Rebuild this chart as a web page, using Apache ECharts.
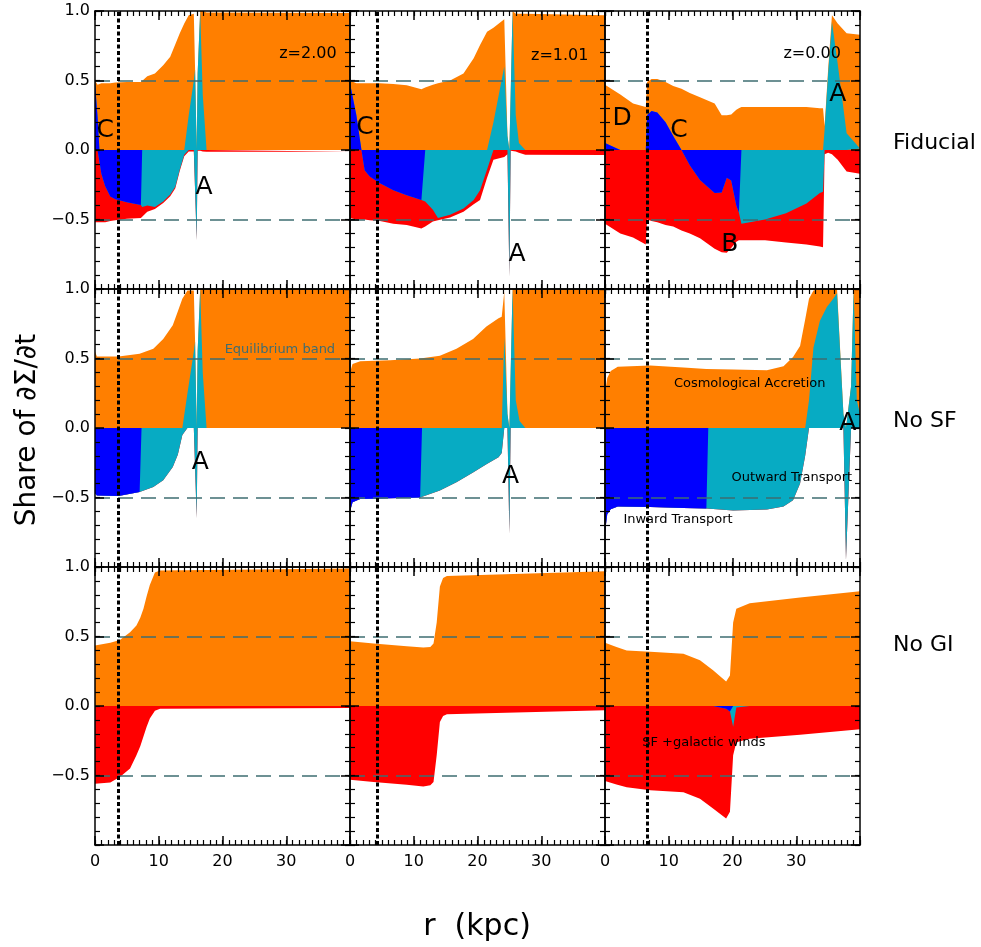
<!DOCTYPE html>
<html lang="en" style="height: 100%;margin: 0;background-color: #fff;">
<head>
    <meta charset="UTF-8">
    <title>chart</title>
</head>
<body style="height: 100%;margin: 0;background-color: #fff;">
<div id="chart" style="width: 981px;height: 947px;margin: 0;"></div>
<script src="https://cdn.jsdelivr.net/npm/echarts@6/dist/echarts.min.js"></script>
<script>
    // share of dSigma/dt per radius (kpc); in = inward transport, out = outward transport,
    // acc = cosmological accretion, sf = SF + galactic winds
    var fidZ2_r   = [0, 0.4, 0.7, 1.0, 1.6, 2.4, 3.2, 5.0, 7.2, 7.4, 8.2, 9.4, 10.7, 11.8, 12.6, 13.3, 14.0, 14.7, 15.5, 15.7, 15.95, 16.1, 16.5, 16.9, 17.5, 40];
    var fidZ2_in  = [0.48, 0.24, 0, -0.17, -0.26, -0.335, -0.355, -0.375, -0.395, 0, 0, 0, 0, 0, 0, 0, 0, 0, 0, 0, 0, 0, 0, 0, 0, 0];
    var fidZ2_out = [0, 0, 0, 0, 0, 0, 0, 0, 0, -0.41, -0.40, -0.41, -0.37, -0.32, -0.265, -0.14, -0.035, 0.25, 0.5, 0.58, -0.65, 0.55, 1.0, 0.4, 0, 0];
    var fidZ2_acc = [0.02, 0.23, 0.47, 0.48, 0.48, 0.48, 0.485, 0.49, 0.49, 0.50, 0.53, 0.55, 0.61, 0.67, 0.76, 0.84, 0.91, 0.72, 0.48, 0, 0, 0, 0, 0.6, 0.99, 0.985];
    var fidZ2_sf  = [-0.52, -0.52, -0.53, -0.35, -0.26, -0.175, -0.15, -0.12, -0.095, -0.08, -0.045, -0.015, -0.012, -0.012, -0.01, -0.01, -0.01, -0.01, -0.01, -0.005, 0, -0.005, -0.005, -0.01, -0.012, -0.012];

    var fidZ1_r   = [0, 1.0, 1.8, 2.3, 3.1, 4.7, 6.8, 8.9, 11.2, 11.8, 13.0, 13.8, 15.7, 17.8, 19.4, 20.4, 21.5, 22.5, 24.2, 24.7, 25.0, 25.2, 25.5, 26.0, 26.5, 27.5, 40];
    var fidZ1_in  = [0.48, 0.25, 0, -0.145, -0.19, -0.24, -0.29, -0.325, -0.36, 0, 0, 0, 0, 0, 0, 0, 0, 0, 0, 0, 0, 0, 0, 0, 0, 0, 0];
    var fidZ1_out = [0, 0, 0, 0, 0, 0, 0, 0, 0, -0.37, -0.43, -0.49, -0.465, -0.42, -0.36, -0.29, -0.14, 0.2, 0.6, 0.1, -0.91, 0.4, 1.0, 0.25, 0.05, 0, 0];
    var fidZ1_acc = [0.02, 0.23, 0.48, 0.48, 0.48, 0.48, 0.475, 0.465, 0.437, 0.45, 0.47, 0.48, 0.5, 0.55, 0.66, 0.755, 0.85, 0.68, 0.34, 0, 0, 0, 0, 0.73, 0.93, 0.98, 0.97];
    var fidZ1_sf  = [-0.49, -0.5, -0.5, -0.355, -0.315, -0.27, -0.24, -0.215, -0.205, -0.18, -0.085, -0.015, -0.02, -0.025, -0.03, -0.07, -0.06, -0.07, -0.05, -0.03, 0, -0.005, -0.005, -0.01, -0.02, -0.035, -0.036];

    var fidZ0_r   = [0, 2.4, 4.4, 6.4, 6.6, 7.3, 8.2, 9.5, 10.7, 12.0, 13.3, 14.9, 17.2, 18.3, 19.1, 19.8, 20.6, 21.0, 21.4, 25.1, 28.4, 31.6, 33.7, 34.2, 34.45, 35.0, 35.6, 36.5, 37.9, 40];
    var fidZ0_in  = [0.05, 0, 0, 0, 0.25, 0.28, 0.27, 0.2, 0.1, 0, -0.11, -0.215, -0.31, -0.305, -0.2, -0.22, -0.4, -0.45, 0, 0, 0, 0, 0, 0, 0, 0, 0, 0, 0, 0];
    var fidZ0_out = [0, 0, 0, 0, 0, 0, 0, 0, 0, 0, 0, 0, 0, 0, 0, 0, 0, 0, -0.53, -0.5, -0.455, -0.385, -0.31, -0.3, 0.15, 0.55, 0.92, 0.62, 0.12, 0.01];
    var fidZ0_acc = [0.42, 0.40, 0.335, 0.31, 0.24, 0.23, 0.24, 0.29, 0.36, 0.44, 0.41, 0.38, 0.335, 0.25, 0.25, 0.255, 0.29, 0.3, 0.31, 0.31, 0.31, 0.31, 0.3, 0.3, 0.02, 0.03, 0.05, 0.29, 0.72, 0.82];
    var fidZ0_sf  = [-0.53, -0.6, -0.63, -0.68, -0.5, -0.51, -0.52, -0.54, -0.55, -0.58, -0.49, -0.42, -0.4, -0.43, -0.54, -0.485, -0.26, -0.2, -0.12, -0.15, -0.21, -0.295, -0.385, -0.4, -0.03, -0.02, -0.03, -0.07, -0.155, -0.17];

    var noSfZ2_r   = [0, 0.3, 3.7, 7.0, 7.3, 9.15, 10.7, 12.2, 13.0, 13.7, 14.5, 15.5, 15.7, 15.95, 16.1, 16.5, 16.9, 17.5, 40];
    var noSfZ2_in  = [-0.47, -0.485, -0.49, -0.46, 0, 0, 0, 0, 0, 0, 0, 0, 0, 0, 0, 0, 0, 0, 0];
    var noSfZ2_out = [0, 0, 0, 0, -0.455, -0.425, -0.375, -0.28, -0.19, -0.05, 0.25, 0.55, 0.62, -0.65, 0.55, 1.0, 0.4, 0, 0];
    var noSfZ2_acc = [0.55, 0.515, 0.515, 0.535, 0.54, 0.57, 0.64, 0.74, 0.84, 0.93, 0.74, 0.44, 0, 0, 0, 0, 0.6, 1.0, 1.0];
    var noSfZ2_sf  = [0, 0, 0, 0, 0, 0, 0, 0, 0, 0, 0, 0, 0, 0, 0, 0, 0, 0, 0];

    var noSfZ1_r   = [0, 0.4, 1.6, 6.3, 11.0, 11.3, 14.1, 16.7, 19.3, 21.4, 23.3, 23.8, 24.2, 24.7, 25.0, 25.2, 25.5, 26.0, 26.6, 27.5, 40];
    var noSfZ1_in  = [-0.6, -0.535, -0.51, -0.505, -0.5, 0, 0, 0, 0, 0, 0, 0, 0, 0, 0, 0, 0, 0, 0, 0, 0];
    var noSfZ1_out = [0, 0, 0, 0, 0, -0.495, -0.45, -0.39, -0.32, -0.26, -0.21, -0.18, 0.65, 0.1, -0.76, 0.4, 1.0, 0.2, 0.05, 0, 0];
    var noSfZ1_acc = [0.4, 0.46, 0.48, 0.487, 0.5, 0.5, 0.52, 0.57, 0.64, 0.73, 0.79, 0.8, 0.33, 0, 0, 0, 0, 0.8, 0.95, 1.0, 1.0];
    var noSfZ1_sf  = [0, 0, 0, 0, 0, 0, 0, 0, 0, 0, 0, 0, 0, 0, 0, 0, 0, 0, 0, 0, 0];

    var noSfZ0_r   = [0, 0.35, 0.9, 2.0, 7.1, 12.3, 15.9, 16.2, 20.1, 25.4, 28.0, 29.5, 30.6, 31.4, 32.0, 32.7, 33.7, 34.8, 35.8, 36.4, 37.4, 37.8, 38.6, 39.0, 39.5, 40];
    var noSfZ0_in  = [-0.75, -0.62, -0.585, -0.565, -0.568, -0.575, -0.58, 0, 0, 0, 0, 0, 0, 0, 0, 0, 0, 0, 0, 0, 0, 0, 0, 0, 0, 0];
    var noSfZ0_out = [0, 0, 0, 0, 0, 0, 0, -0.59, -0.593, -0.587, -0.565, -0.52, -0.4, -0.2, 0.2, 0.58, 0.77, 0.87, 0.93, 0.97, 0.1, -0.95, 0.3, 1.0, 0.2, 0.1];
    var noSfZ0_acc = [0.25, 0.36, 0.41, 0.44, 0.45, 0.435, 0.425, 0.425, 0.42, 0.415, 0.445, 0.51, 0.59, 0.78, 0.73, 0.41, 0.23, 0.13, 0.07, 0.03, 0, 0, 0, 0, 0.8, 0.9];
    var noSfZ0_sf  = [0, 0, 0, 0, 0, 0, 0, 0, 0, 0, 0, 0, 0, 0, 0, 0, 0, 0, 0, 0, 0, 0, 0, 0, 0, 0];

    var noGiZ2_r   = [0, 2.4, 3.9, 5.5, 6.5, 7.1, 7.6, 8.1, 8.6, 9.4, 10.2, 40];
    var noGiZ2_in  = [0, 0, 0, 0, 0, 0, 0, 0, 0, 0, 0, 0];
    var noGiZ2_out = [0, 0, 0, 0, 0, 0, 0, 0, 0, 0, 0, 0];
    var noGiZ2_acc = [0.436, 0.455, 0.475, 0.53, 0.58, 0.635, 0.7, 0.79, 0.87, 0.96, 0.975, 0.99];
    var noGiZ2_sf  = [-0.56, -0.55, -0.51, -0.45, -0.355, -0.29, -0.22, -0.15, -0.09, -0.035, -0.02, -0.015];

    var noGiZ1_r   = [0, 3.7, 8.9, 11.5, 12.6, 13.1, 13.6, 14.1, 14.6, 15.2, 40];
    var noGiZ1_in  = [0, 0, 0, 0, 0, 0, 0, 0, 0, 0, 0];
    var noGiZ1_out = [0, 0, 0, 0, 0, 0, 0, 0, 0, 0, 0];
    var noGiZ1_acc = [0.465, 0.45, 0.43, 0.42, 0.425, 0.45, 0.6, 0.86, 0.92, 0.935, 0.97];
    var noGiZ1_sf  = [-0.53, -0.547, -0.566, -0.58, -0.57, -0.547, -0.355, -0.115, -0.072, -0.06, -0.03];

    var noGiZ0_r   = [0, 1.8, 3.4, 7.1, 12.3, 14.9, 17.0, 19.0, 19.6, 20.1, 20.6, 22.7, 30.6, 40];
    var noGiZ0_in  = [0, 0, 0, 0, 0, 0, 0, -0.02, -0.04, 0, 0, 0, 0, 0];
    var noGiZ0_out = [0, 0, 0, 0, 0, 0, 0, 0, 0, -0.15, -0.01, 0, 0, 0];
    var noGiZ0_acc = [0.455, 0.425, 0.4, 0.39, 0.376, 0.33, 0.256, 0.177, 0.22, 0.6, 0.7, 0.74, 0.78, 0.825];
    var noGiZ0_sf  = [-0.54, -0.565, -0.585, -0.607, -0.62, -0.667, -0.74, -0.79, -0.72, -0.205, -0.25, -0.235, -0.206, -0.168];

    // radius of the vertical dotted marker, one per redshift column
    var dotR = [3.65, 4.35, 6.7];
    var rowNames = ["Fiducial", "No SF", "No GI"];
    var bandLevels = [0.5, -0.5];

    // [panel, r, share, text, font size, colour]
    var notes = [
        [0, 33.4, 0.69, "z=2.00", 16], [0, 1.6, 0.14, "C", 25], [0, 17.1, -0.27, "A", 25],
        [1, 32.9, 0.68, "z=1.01", 16], [1, 2.35, 0.16, "C", 25], [1, 26.2, -0.755, "A", 25],
        [2, 32.5, 0.69, "z=0.00", 16], [2, 2.7, 0.23, "D", 25], [2, 11.6, 0.14, "C", 25],
        [2, 19.6, -0.68, "B", 25], [2, 36.5, 0.40, "A", 25],
        [3, 29.0, 0.566, "Equilibrium band", 13, "#3e6d72"], [3, 16.5, -0.245, "A", 25],
        [4, 25.2, -0.35, "A", 25],
        [5, 22.7, 0.32, "Cosmological Accretion", 13], [5, 38.1, 0.03, "A", 25],
        [5, 29.3, -0.36, "Outward Transport", 13], [5, 11.45, -0.66, "Inward Transport", 13],
        [8, 15.5, -0.26, "SF +galactic winds", 13]
    ];

    var panels = [
        {r: fidZ2_r, inw: fidZ2_in, out: fidZ2_out, acc: fidZ2_acc, sf: fidZ2_sf},
        {r: fidZ1_r, inw: fidZ1_in, out: fidZ1_out, acc: fidZ1_acc, sf: fidZ1_sf},
        {r: fidZ0_r, inw: fidZ0_in, out: fidZ0_out, acc: fidZ0_acc, sf: fidZ0_sf},
        {r: noSfZ2_r, inw: noSfZ2_in, out: noSfZ2_out, acc: noSfZ2_acc, sf: noSfZ2_sf},
        {r: noSfZ1_r, inw: noSfZ1_in, out: noSfZ1_out, acc: noSfZ1_acc, sf: noSfZ1_sf},
        {r: noSfZ0_r, inw: noSfZ0_in, out: noSfZ0_out, acc: noSfZ0_acc, sf: noSfZ0_sf},
        {r: noGiZ2_r, inw: noGiZ2_in, out: noGiZ2_out, acc: noGiZ2_acc, sf: noGiZ2_sf},
        {r: noGiZ1_r, inw: noGiZ1_in, out: noGiZ1_out, acc: noGiZ1_acc, sf: noGiZ1_sf},
        {r: noGiZ0_r, inw: noGiZ0_in, out: noGiZ0_out, acc: noGiZ0_acc, sf: noGiZ0_sf}
    ];

    var FONT = "DejaVu Sans";
    var C_IN = "#0000ff", C_OUT = "#07abc3", C_ACC = "#ff7f00", C_SF = "#ff0000", C_BAND = "#3e6d72";
    var colLeft = [95, 350, 605], rowTop = [11, 289, 567], panelW = 255, panelH = 278;

    var chartContainer = document.getElementById("chart");
    var myChart = echarts.init(chartContainer, null, {renderer: 'canvas'});

    // each panel gets 4 x axes and 4 y axes: framed major ticks (bottom/left carry labels)
    // plus a second pair that only draws the short minor ticks; all drawn above the fills
    function xAx(p, pos, showLabel, minor) {
        return {
            gridIndex: p, type: 'value', position: pos, min: 0, max: 40, interval: minor ? 1 : 10, z: 10,
            axisLine: {show: !minor, onZero: false, lineStyle: {color: '#000', width: 1.5}},
            axisTick: {show: true, inside: true, length: minor ? 5 : 9, lineStyle: {color: '#000', width: minor ? 1.2 : 1.5}},
            splitLine: {show: false},
            axisLabel: {
                show: showLabel, margin: 9, color: '#000', fontSize: 16, fontFamily: FONT,
                formatter: function (v) { return v >= 40 ? '' : String(v); }
            }
        };
    }

    function yAx(p, pos, showLabel, minor) {
        return {
            gridIndex: p, type: 'value', position: pos, min: -1, max: 1, interval: minor ? 0.1 : 0.5, z: 10,
            axisLine: {show: !minor, onZero: false, lineStyle: {color: '#000', width: 1.5}},
            axisTick: {show: true, inside: true, length: minor ? 5 : 9, lineStyle: {color: '#000', width: minor ? 1.2 : 1.5}},
            splitLine: {show: false},
            axisLabel: {
                show: showLabel, margin: 5, color: '#000', fontSize: 16, fontFamily: FONT,
                formatter: function (v) {
                    if (v <= -1) return '';
                    return (v < 0 ? '\u2212' : '') + Math.abs(v).toFixed(1);
                }
            }
        };
    }

    function band(p, name, color, values, z) {
        var rs = panels[p].r;
        return {
            name: name, type: 'line', xAxisIndex: 4 * p, yAxisIndex: 4 * p, z: z,
            data: rs.map(function (r, i) { return [r, values[i]]; }),
            symbol: 'none', showSymbol: false, silent: true, animation: false,
            lineStyle: {width: 0, opacity: 0},
            areaStyle: {color: color, opacity: 1}
        };
    }

    var grid = [], xAxis = [], yAxis = [], series = [];
    panels.forEach(function (pn, p) {
        var row = Math.floor(p / 3), col = p % 3;
        grid.push({left: colLeft[col], top: rowTop[row], width: panelW, height: panelH});
        xAxis.push(xAx(p, 'bottom', row === 2, false), xAx(p, 'top', false, false),
                   xAx(p, 'bottom', false, true), xAx(p, 'top', false, true));
        yAxis.push(yAx(p, 'left', col === 0, false), yAx(p, 'right', false, false),
                   yAx(p, 'left', false, true), yAx(p, 'right', false, true));

        // stack the shares: positive parts upward from zero, negative parts downward
        var accTop = [], sfBot = [], outTop = [], outBot = [], inTop = [], inBot = [];
        for (var i = 0; i < pn.r.length; i++) {
            var ip = Math.max(pn.inw[i], 0), im = Math.min(pn.inw[i], 0);
            var op = Math.max(pn.out[i], 0), om = Math.min(pn.out[i], 0);
            inTop.push(ip); inBot.push(im);
            outTop.push(ip + op); outBot.push(im + om);
            accTop.push(ip + op + pn.acc[i]); sfBot.push(im + om + pn.sf[i]);
        }
        var guide = band(p, 'Inward Transport', C_IN, inBot, 4);
        guide.markLine = {
            silent: true, symbol: 'none', animation: false, label: {show: false},
            emphasis: {disabled: true},
            data: bandLevels.map(function (lv) {
                return {yAxis: lv, lineStyle: {color: C_BAND, width: 1.6, type: [15, 8]}};
            }).concat([{xAxis: dotR[col], lineStyle: {color: '#000', width: 3, type: [4, 2.5]}}])
        };
        series.push(
            band(p, 'Cosmological Accretion', C_ACC, accTop, 2),
            band(p, 'SF + galactic winds', C_SF, sfBot, 2),
            band(p, 'Outward Transport', C_OUT, outTop, 3),
            band(p, 'Outward Transport', C_OUT, outBot, 3),
            band(p, 'Inward Transport', C_IN, inTop, 4),
            guide
        );
    });

    myChart.setOption({
        backgroundColor: '#fff',
        animation: false,
        grid: grid,
        xAxis: xAxis,
        yAxis: yAxis,
        series: series
    });

    function textEl(x, y, text, size, color, align, rotation) {
        return {
            type: 'text', x: x, y: y, rotation: rotation || 0, silent: true, z: 20,
            style: {
                text: text, fontSize: size, fontFamily: FONT, fill: color || '#000',
                align: align || 'center', verticalAlign: 'middle'
            }
        };
    }

    var graphics = [
        textEl(28, 430, "Share of \u2202\u03A3/\u2202t", 28, '#000', 'center', Math.PI / 2),
        textEl(477, 927, "r  (kpc)", 30),
        textEl(893, 143, rowNames[0], 22, '#000', 'left'),
        textEl(893, 421, rowNames[1], 22, '#000', 'left'),
        textEl(893, 645, rowNames[2], 22, '#000', 'left')
    ];
    notes.forEach(function (n) {
        var pt = myChart.convertToPixel({xAxisIndex: 4 * n[0], yAxisIndex: 4 * n[0]}, [n[1], n[2]]);
        graphics.push(textEl(pt[0], pt[1], n[3], n[4], n[5]));
    });
    myChart.setOption({graphic: graphics});
</script>
</body>
</html>
